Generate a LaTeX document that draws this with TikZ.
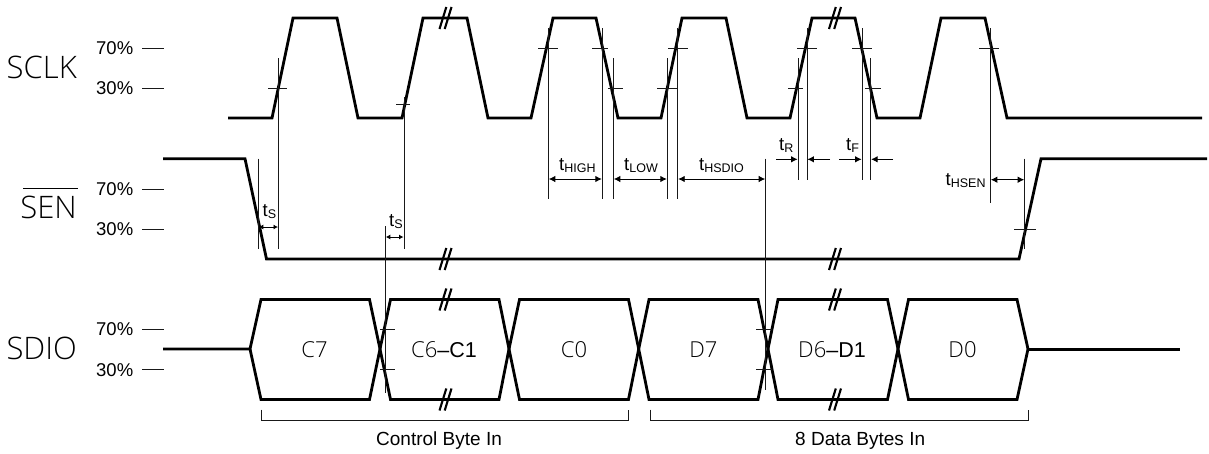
\documentclass[tikz,border=0pt]{standalone}
\usepackage{fontspec}
\usetikzlibrary{arrows.meta}
\setmainfont{Liberation Sans}
\newfontfamily\thinf{Open Sans Light}
\newcommand\tlab[1]{t\raisebox{-2pt}{\fontsize{12.5}{12.5}\selectfont #1}}
\tikzset{
  sig/.style={line width=2.8pt,line join=miter,line cap=butt},
  sigthin/.style={line width=2.2pt},
  brk/.style={line width=2.1pt},
  guide/.style={line width=0.85pt,black!90},
  tickmark/.style={line width=0.85pt,black!90},
  lvl/.style={line width=0.85pt,black!90},
  tarrow/.style={line width=0.9pt,{Latex[length=6.5pt,width=6.5pt]}-{Latex[length=6.5pt,width=6.5pt]}},
  sarrow/.style={line width=0.9pt,{Latex[length=4.5pt,width=5pt]}-{Latex[length=4.5pt,width=5pt]}},
  rarrow/.style={line width=0.9pt,-{Latex[length=6.5pt,width=6.5pt]}},
  brace/.style={line width=1pt,black!90},
  lab/.style={inner sep=0pt,anchor=base west,font=\fontsize{18.5}{18.5}\selectfont},
  caplab/.style={inner sep=0pt,anchor=base west,font=\fontsize{19}{19}\selectfont},
  signame/.style={inner sep=0pt,anchor=base east,font=\thinf\fontsize{31}{31}\selectfont},
  cell/.style={inner sep=0pt,anchor=base,font=\thinf\fontsize{22}{22}\selectfont},
}
\begin{document}
\begin{tikzpicture}[x=1pt,y=-1pt]
\useasboundingbox (0,0) rectangle (1209,453);
\fill[white] (0,0) rectangle (1209,453);
% signal names
\node[signame] (nsclk) at (77,78) {SCLK};
\node[signame] (nsen) at (77,218) {SEN};
\node[signame] (nsdio) at (77,359) {SDIO};
\draw[line width=1.3pt] (23,188.5) -- (78,188.5);
% level labels and dashes
\foreach \yy/\pc/\nn in {48/70/a,88.5/30/b,189/70/c,229.5/30/d,329.5/70/e,369.7/30/f}{
  \node[lab] (lv\nn) at (96,\yy+6.4) {\pc\%};
  \draw[lvl] (142,\yy) -- (164,\yy);
}
% SCLK
\draw[sig] (228,118) -- (272,118) -- (293,18) -- (337,18) -- (358,118) -- (402,118) -- (423,18) -- (467,18) -- (488,118)
 -- (531,118) -- (553,18) -- (596,18) -- (618,118) -- (661,118) -- (682,18) -- (726,18) -- (747,118)
 -- (790,118) -- (812,18) -- (855,18) -- (877,118) -- (920,118) -- (941,18) -- (985,18) -- (1007,118) -- (1202,118);
% SEN
\draw[sig] (163,158.7) -- (245,158.7) -- (266.5,259) -- (1019,259) -- (1041,158.7) -- (1207,158.7);
% SDIO
\draw[sig] (163,349) -- (250,349) -- (261,299.5) -- (369.5,299.5) -- (380,349) -- (390.5,399.5) -- (499,399.5) -- (509,349) -- (519.5,299.5)
 -- (628.5,299.5) -- (638.7,349) -- (649,399.5) -- (758,399.5) -- (768,349) -- (778,299.5) -- (887.5,299.5) -- (898,349) -- (908.5,399.5) -- (1017,399.5) -- (1028,349);
\draw[sig] (250,349) -- (261,399.5) -- (369.5,399.5) -- (380,349) -- (390.5,299.5) -- (499,299.5) -- (509,349) -- (519.5,399.5)
 -- (628.5,399.5) -- (638.7,349) -- (649,299.5) -- (758,299.5) -- (768,349) -- (778,399.5) -- (887.5,399.5) -- (898,349) -- (908.5,299.5) -- (1017,299.5) -- (1028,349);
\draw[sigthin] (1028,349.5) -- (1180,349.5);
% breaks
\foreach \bx in {445.5,835}{
  \foreach \by in {18,259,299.5,399.5}{
    \draw[brk] (\bx-6,\by+11) -- (\bx+0.8,\by-11);
    \draw[brk] (\bx-0.8,\by+11) -- (\bx+6,\by-11);
  }
}
% guides
\foreach \gx/\ga/\gb in {258.3/158.7/249,278.5/58/249,404/97/249,385.3/226/392.7,548.3/28/199,602.3/28/199,613.3/58/199,667.3/58/199,677.7/28/199,765.7/158.7/390,798/58/180,807/28/180,862/28/180,870.7/58/180,990.3/28/203,1024.7/158.7/249}{
  \draw[guide] (\gx,\ga) -- (\gx,\gb);
}
% threshold ticks
\foreach \xa/\xb/\ty in {268/287/88.5,396/410/104,380/395/329.5,380/395/369.7,538/558/48,592/608/48,608/623/88.5,657/677/88.5,668/688/48,756/772/329.5,756/772/369.7,788/803/88.5,797/817/48.5,852/872/48.5,865/881/88.5,979/999/48,1014/1036/229}{
  \draw[tickmark] (\xa,\ty) -- (\xb,\ty);
}
% timing arrows
\draw[sarrow] (258.8,227) -- (278,227);
\draw[sarrow] (385.8,237) -- (403.5,237);
\draw[tarrow] (548.8,179) -- (601.8,179);
\draw[tarrow] (613.8,179) -- (666.8,179);
\draw[tarrow] (678.2,179) -- (765.2,179);
\draw[rarrow] (776,159.3) -- (797.6,159.3);
\draw[rarrow] (830,159.3) -- (807.4,159.3);
\draw[rarrow] (839,159.3) -- (861.6,159.3);
\draw[rarrow] (893,159.3) -- (871.1,159.3);
\draw[tarrow] (990.8,179.7) -- (1024.2,179.7);
% timing labels
\node[lab] (ts1) at (262.5,216) {\tlab{S}};
\node[lab] (ts2) at (389,226.5) {\tlab{S}};
\node[lab] (thigh) at (559,170) {\tlab{HIGH}};
\node[lab] (tlow) at (624,170) {\tlab{LOW}};
\node[lab] (thsdio) at (699,170) {\tlab{HSDIO}};
\node[lab] (tr) at (779,150) {\tlab{R}};
\node[lab] (tf) at (846,150) {\tlab{F}};
\node[lab] (thsen) at (945.5,185) {\tlab{HSEN}};
% cell labels
\node[cell] (c7) at (314.5,357) {C7};
\node[cell] (c61) at (444,357) {C6{\rmfamily\fontsize{21.5}{21.5}\selectfont--C1}};
\node[cell] (c0) at (574,357) {C0};
\node[cell] (d7) at (703.5,357) {D7};
\node[cell] (d61) at (832,357) {D6{\rmfamily\fontsize{21.5}{21.5}\selectfont--D1}};
\node[cell] (d0) at (962.5,357) {D0};
% byte brackets
\draw[brace] (261,409.5) -- (261,420) -- (628.5,420) -- (628.5,410);
\draw[brace] (650,409.5) -- (650,420) -- (1028,420) -- (1028,409.5);
\node[caplab] (ctrl) at (376,445) {Control Byte In};
\node[caplab] (data) at (795,445) {8 Data Bytes In};
\end{tikzpicture}
\end{document}
